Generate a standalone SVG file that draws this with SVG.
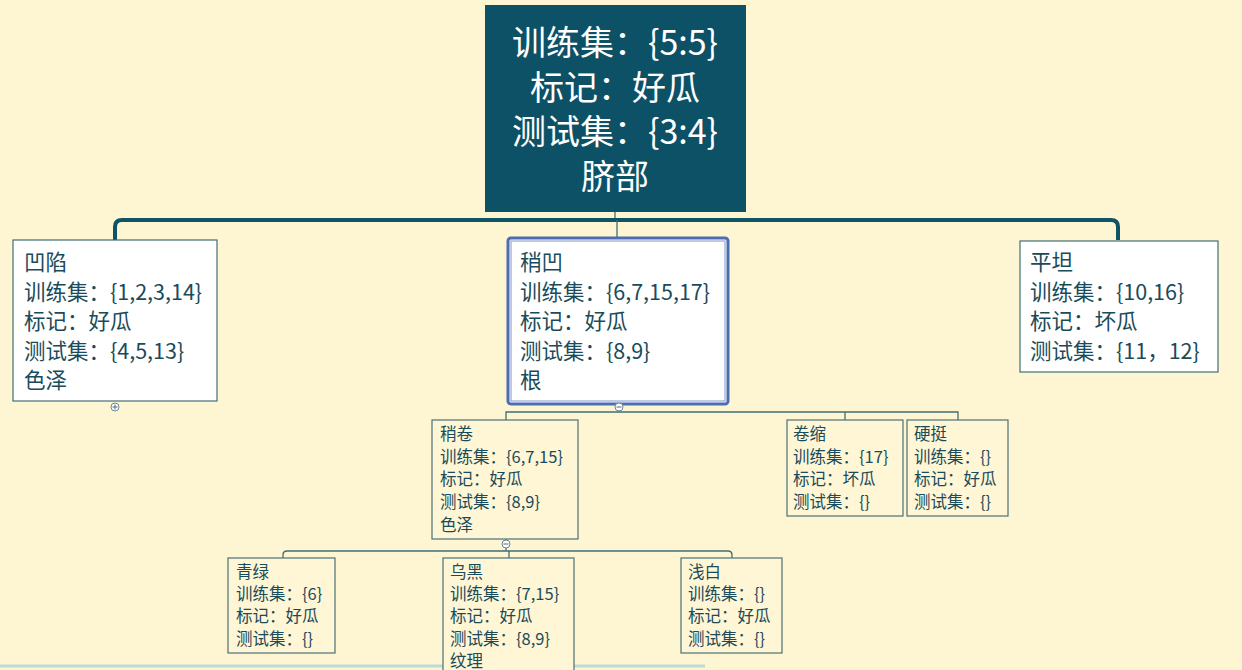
<svg xmlns="http://www.w3.org/2000/svg" width="1242" height="670" viewBox="0 0 1242 670">
<style>
text{font-family:"Noto Sans CJK SC","Noto Sans",sans-serif;fill:#1A4B5A}
.root text{fill:#FFFFFF;font-size:34px;text-anchor:middle}
.l1 text{font-size:21.5px}
.l2 text{font-size:16.5px}
.box1{fill:#FFFFFF;stroke:#3E6E78;stroke-width:1.2}
.box2{fill:#FFF6D6;stroke:#4A7277;stroke-width:1.2}
.sel{fill:#FFFFFF;stroke:#4D6DB3;stroke-width:3}
.ln{fill:none;stroke:#3F6E74;stroke-width:1.3}
.thick{fill:none;stroke:#0E5366;stroke-width:4}
.tog{fill:#FFFFFF;stroke:#6A8A98;stroke-width:1}
.togm{stroke:#4A6A78;stroke-width:1}
</style>
<rect width="1242" height="670" fill="#FEF5D2"/>
<line x1="0" y1="666" x2="705" y2="666" stroke="#B9DCD6" stroke-width="3"/>
<g id="connectors">
<line class="ln" x1="615" y1="212" x2="615" y2="220"/>
<path class="thick" d="M115,240 V227 Q115,220 122,220 H1111 Q1118,220 1118,227 V240"/>
<line class="ln" x1="617" y1="220" x2="617" y2="237"/>
<line class="ln" x1="619" y1="404" x2="619" y2="412"/>
<path class="ln" d="M506,420 V412 H958 V420"/>
<line class="ln" x1="845" y1="412" x2="845" y2="420"/>
<line class="ln" x1="506" y1="539" x2="506" y2="551"/>
<path class="ln" d="M283,558 V555 Q283,551 287,551 H728 Q732,551 732,555 V558"/>
<line class="ln" x1="509" y1="551" x2="509" y2="558"/>
</g>
<g id="root" class="root">
<rect x="485" y="5" width="261" height="207" fill="#0D5166"/>
<text x="615" y="55">训练集：{5:5}</text>
<text x="615" y="100">标记：好瓜</text>
<text x="615" y="144">测试集：{3:4}</text>
<text x="615" y="189">脐部</text>
</g>
<g id="aoxian" class="l1">
<rect class="box1" x="13" y="240" width="204" height="161"/>
<text x="24" y="270">凹陷</text>
<text x="24" y="300">训练集：{1,2,3,14}</text>
<text x="24" y="329">标记：好瓜</text>
<text x="24" y="359">测试集：{4,5,13}</text>
<text x="24" y="388">色泽</text>
<circle class="tog" cx="115" cy="407" r="4"/>
<path class="togm" d="M112.5,407 H117.5 M115,404.5 V409.5"/>
</g>
<g id="shaoao" class="l1">
<rect class="sel" x="508" y="238" width="220" height="166" rx="3"/>
<rect x="511" y="241" width="214" height="160" fill="none" stroke="#7E96C8" stroke-width="1"/>
<text x="520" y="270">稍凹</text>
<text x="520" y="300">训练集：{6,7,15,17}</text>
<text x="520" y="329">标记：好瓜</text>
<text x="520" y="359">测试集：{8,9}</text>
<text x="520" y="388">根</text>
<circle class="tog" cx="619" cy="407" r="4"/>
<path class="togm" d="M616.5,407 H621.5"/>
</g>
<g id="pingtan" class="l1">
<rect class="box1" x="1020" y="241" width="198" height="131"/>
<text x="1030" y="270">平坦</text>
<text x="1030" y="300">训练集：{10,16}</text>
<text x="1030" y="329">标记：坏瓜</text>
<text x="1030" y="359">测试集：{11，12}</text>
</g>
<g id="shaojuan" class="l2">
<rect class="box2" x="432" y="420" width="146" height="119"/>
<text x="440" y="440">稍卷</text>
<text x="440" y="463">训练集：{6,7,15}</text>
<text x="440" y="485">标记：好瓜</text>
<text x="440" y="508">测试集：{8,9}</text>
<text x="440" y="531">色泽</text>
<circle class="tog" cx="506" cy="544" r="4"/>
<path class="togm" d="M503.5,544 H508.5"/>
</g>
<g id="juansuo" class="l2">
<rect class="box2" x="787" y="420" width="116" height="96"/>
<text x="793" y="440">卷缩</text>
<text x="793" y="463">训练集：{17}</text>
<text x="793" y="485">标记：坏瓜</text>
<text x="793" y="508">测试集：{}</text>
</g>
<g id="yingting" class="l2">
<rect class="box2" x="907" y="420" width="101" height="96"/>
<text x="914" y="440">硬挺</text>
<text x="914" y="463">训练集：{}</text>
<text x="914" y="485">标记：好瓜</text>
<text x="914" y="508">测试集：{}</text>
</g>
<g id="qinglv" class="l2">
<rect class="box2" x="228" y="558" width="107" height="95"/>
<text x="236" y="578">青绿</text>
<text x="236" y="600">训练集：{6}</text>
<text x="236" y="622">标记：好瓜</text>
<text x="236" y="645">测试集：{}</text>
</g>
<g id="wuhei" class="l2">
<rect class="box2" x="443" y="558" width="131" height="120"/>
<text x="450" y="578">乌黑</text>
<text x="450" y="600">训练集：{7,15}</text>
<text x="450" y="622">标记：好瓜</text>
<text x="450" y="645">测试集：{8,9}</text>
<text x="450" y="667">纹理</text>
</g>
<g id="qianbai" class="l2">
<rect class="box2" x="681" y="558" width="101" height="95"/>
<text x="688" y="578">浅白</text>
<text x="688" y="600">训练集：{}</text>
<text x="688" y="622">标记：好瓜</text>
<text x="688" y="645">测试集：{}</text>
</g>
</svg>
